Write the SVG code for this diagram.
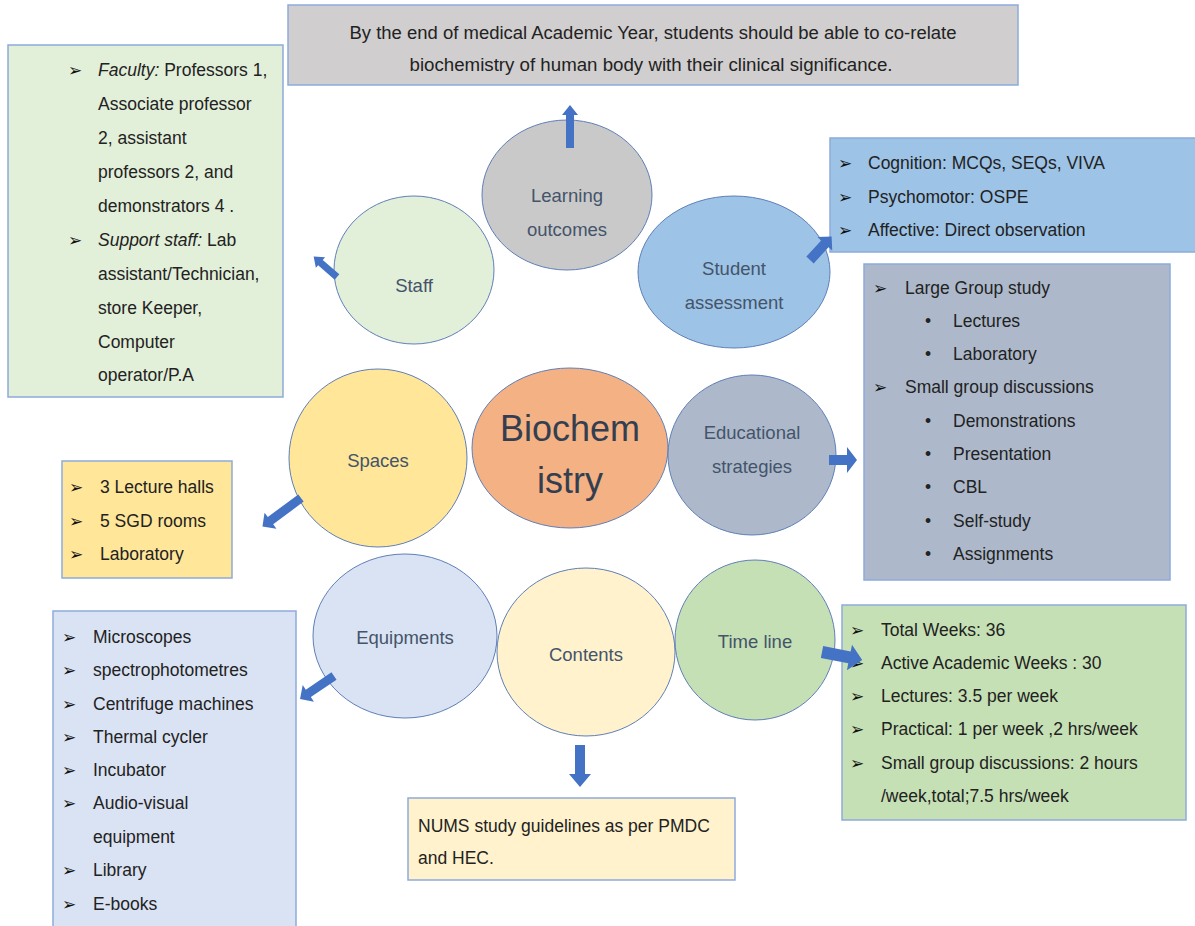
<svg xmlns="http://www.w3.org/2000/svg" width="1195" height="926" viewBox="0 0 1195 926">
<style>
.box{stroke:#8eaadb;stroke-width:1.5}
.ell{stroke:#5f7fb8;stroke-width:1}
.lbl{font-family:"Liberation Sans",Arial,sans-serif;font-size:18.5px;fill:#44546a;text-anchor:middle;dominant-baseline:central}
.t{font-family:"Liberation Sans",Arial,sans-serif;font-size:17.5px;fill:#222;dominant-baseline:central}
.b{font-family:"DejaVu Sans",sans-serif;font-size:17px;fill:#111;dominant-baseline:central}
.arw{fill:#4472c4}
</style>
<rect width="1195" height="926" fill="#ffffff"/>

<g id="outcome-box">
<rect class="box" x="288" y="5" width="730" height="80" fill="#d0cece"/>
<text class="t" x="653" y="33" text-anchor="middle" textLength="607" lengthAdjust="spacingAndGlyphs">By the end of medical Academic Year, students should be able to co-relate</text>
<text class="t" x="651" y="65" text-anchor="middle" textLength="483" lengthAdjust="spacingAndGlyphs">biochemistry of human body with their clinical significance.</text>
</g>

<g id="staff-box">
<rect class="box" x="8" y="45" width="275" height="352" fill="#e2efd9"/>
<text class="b" x="68" y="70">➢</text>
<text class="t" x="98" y="70"><tspan font-style="italic">Faculty:</tspan> Professors 1,</text>
<text class="t" x="98" y="104">Associate professor</text>
<text class="t" x="98" y="138">2, assistant</text>
<text class="t" x="98" y="172">professors 2, and</text>
<text class="t" x="98" y="206">demonstrators 4 .</text>
<text class="b" x="68" y="240">➢</text>
<text class="t" x="98" y="240"><tspan font-style="italic">Support staff:</tspan> Lab</text>
<text class="t" x="98" y="274">assistant/Technician,</text>
<text class="t" x="98" y="308">store Keeper,</text>
<text class="t" x="98" y="342">Computer</text>
<text class="t" x="98" y="375">operator/P.A</text>
</g>

<g id="assessment-box">
<rect class="box" x="830" y="138" width="370" height="114" fill="#9dc3e6"/>
<text class="b" x="838" y="163">➢</text>
<text class="t" x="868" y="163">Cognition: MCQs, SEQs, VIVA</text>
<text class="b" x="838" y="197">➢</text>
<text class="t" x="868" y="197">Psychomotor: OSPE</text>
<text class="b" x="838" y="230">➢</text>
<text class="t" x="868" y="230">Affective: Direct observation</text>
</g>

<g id="strategies-box">
<rect class="box" x="864" y="264" width="306" height="316" fill="#adb9ca"/>
<text class="b" x="873" y="288">➢</text>
<text class="t" x="905" y="288">Large Group study</text>
<text class="t" x="925" y="321">•</text>
<text class="t" x="953" y="321">Lectures</text>
<text class="t" x="925" y="354">•</text>
<text class="t" x="953" y="354">Laboratory</text>
<text class="b" x="873" y="387">➢</text>
<text class="t" x="905" y="387">Small group discussions</text>
<text class="t" x="925" y="421">•</text>
<text class="t" x="953" y="421">Demonstrations</text>
<text class="t" x="925" y="454">•</text>
<text class="t" x="953" y="454">Presentation</text>
<text class="t" x="925" y="487">•</text>
<text class="t" x="953" y="487">CBL</text>
<text class="t" x="925" y="521">•</text>
<text class="t" x="953" y="521">Self-study</text>
<text class="t" x="925" y="554">•</text>
<text class="t" x="953" y="554">Assignments</text>
</g>

<g id="spaces-box">
<rect class="box" x="62" y="461" width="170" height="117" fill="#ffe699"/>
<text class="b" x="69" y="487">➢</text>
<text class="t" x="100" y="487">3 Lecture halls</text>
<text class="b" x="69" y="521">➢</text>
<text class="t" x="100" y="521">5 SGD rooms</text>
<text class="b" x="69" y="554">➢</text>
<text class="t" x="100" y="554">Laboratory</text>
</g>

<g id="equipment-box">
<rect class="box" x="53" y="611" width="243" height="320" fill="#dae3f3"/>
<text class="b" x="62" y="637">➢</text>
<text class="t" x="93" y="637">Microscopes</text>
<text class="b" x="62" y="670">➢</text>
<text class="t" x="93" y="670">spectrophotometres</text>
<text class="b" x="62" y="704">➢</text>
<text class="t" x="93" y="704">Centrifuge machines</text>
<text class="b" x="62" y="737">➢</text>
<text class="t" x="93" y="737">Thermal cycler</text>
<text class="b" x="62" y="770">➢</text>
<text class="t" x="93" y="770">Incubator</text>
<text class="b" x="62" y="803">➢</text>
<text class="t" x="93" y="803">Audio-visual</text>
<text class="t" x="93" y="837">equipment</text>
<text class="b" x="62" y="870">➢</text>
<text class="t" x="93" y="870">Library</text>
<text class="b" x="62" y="904">➢</text>
<text class="t" x="93" y="904">E-books</text>
</g>

<g id="timeline-box">
<rect class="box" x="842" y="605" width="344" height="215" fill="#c5e0b4"/>
<text class="b" x="850" y="630">➢</text>
<text class="t" x="881" y="630">Total Weeks: 36</text>
<text class="b" x="850" y="663">➢</text>
<text class="t" x="881" y="663">Active Academic Weeks : 30</text>
<text class="b" x="850" y="696">➢</text>
<text class="t" x="881" y="696">Lectures: 3.5 per week</text>
<text class="b" x="850" y="729">➢</text>
<text class="t" x="881" y="729">Practical: 1 per week ,2 hrs/week</text>
<text class="b" x="850" y="763">➢</text>
<text class="t" x="881" y="763">Small group discussions: 2 hours</text>
<text class="t" x="881" y="796">/week,total;7.5 hrs/week</text>
</g>

<g id="contents-box">
<rect class="box" x="408" y="798" width="327" height="82" fill="#fff2cc"/>
<text class="t" x="418" y="826">NUMS study guidelines as per PMDC</text>
<text class="t" x="418" y="858">and HEC.</text>
</g>

<g id="node-learning-outcomes">
<ellipse class="ell" cx="567" cy="195" rx="85" ry="75" fill="#c9c9c9"/>
<text class="lbl" x="567" y="195">Learning</text>
<text class="lbl" x="567" y="229">outcomes</text>
</g>
<g id="node-staff">
<ellipse class="ell" cx="414" cy="270" rx="80" ry="74" fill="#e2efd9"/>
<text class="lbl" x="414" y="285">Staff</text>
</g>
<g id="node-student-assessment">
<ellipse class="ell" cx="734" cy="272" rx="96" ry="76" fill="#9dc3e6"/>
<text class="lbl" x="734" y="268">Student</text>
<text class="lbl" x="734" y="302">assessment</text>
</g>
<g id="node-spaces">
<ellipse class="ell" cx="378" cy="458" rx="89" ry="89" fill="#ffe699"/>
<text class="lbl" x="378" y="460">Spaces</text>
</g>
<g id="node-biochemistry">
<ellipse class="ell" cx="570" cy="448" rx="98" ry="80" fill="#f4b183"/>
<text class="lbl" x="570" y="428" style="font-size:36px;fill:#333f50">Biochem</text>
<text class="lbl" x="570" y="480" style="font-size:36px;fill:#333f50">istry</text>
</g>
<g id="node-educational-strategies">
<ellipse class="ell" cx="752" cy="455" rx="84" ry="80" fill="#adb9ca"/>
<text class="lbl" x="752" y="432">Educational</text>
<text class="lbl" x="752" y="466">strategies</text>
</g>
<g id="node-equipments">
<ellipse class="ell" cx="405" cy="636" rx="92" ry="82" fill="#dae3f3"/>
<text class="lbl" x="405" y="637">Equipments</text>
</g>
<g id="node-contents">
<ellipse class="ell" cx="586" cy="652" rx="89" ry="84" fill="#fff2cc"/>
<text class="lbl" x="586" y="654">Contents</text>
</g>
<g id="node-time-line">
<ellipse class="ell" cx="755" cy="640" rx="80" ry="80" fill="#c5e0b4"/>
<text class="lbl" x="755" y="641">Time line</text>
</g>

<g id="connectors">
<polygon class="arw" transform="translate(570,148) rotate(-90)" points="0,-4 33,-4 33,-8 43,0 33,8 33,4 0,4"/>
<polygon class="arw" transform="translate(337,277) rotate(-138.8)" points="0,-3.5 22,-3.5 22,-7 31,0 22,7 22,3.5 0,3.5"/>
<polygon class="arw" transform="translate(810,260) rotate(-47.5)" points="0,-5 22,-5 22,-10 32,0 22,10 22,5 0,5"/>
<polygon class="arw" transform="translate(301,498) rotate(143.4)" points="0,-4.5 38,-4.5 38,-10 48,0 38,10 38,4.5 0,4.5"/>
<polygon class="arw" transform="translate(829,460) rotate(0)" points="0,-5 18,-5 18,-13 28,0 18,13 18,5 0,5"/>
<polygon class="arw" transform="translate(334,676) rotate(145.9)" points="0,-4.5 31,-4.5 31,-10 41,0 31,10 31,4.5 0,4.5"/>
<polygon class="arw" transform="translate(580,745) rotate(90)" points="0,-5 29,-5 29,-11 42,0 29,11 29,5 0,5"/>
<polygon class="arw" transform="translate(822,652) rotate(11.3)" points="0,-6 28,-6 28,-13 41,0 28,13 28,6 0,6"/>
</g>
</svg>
